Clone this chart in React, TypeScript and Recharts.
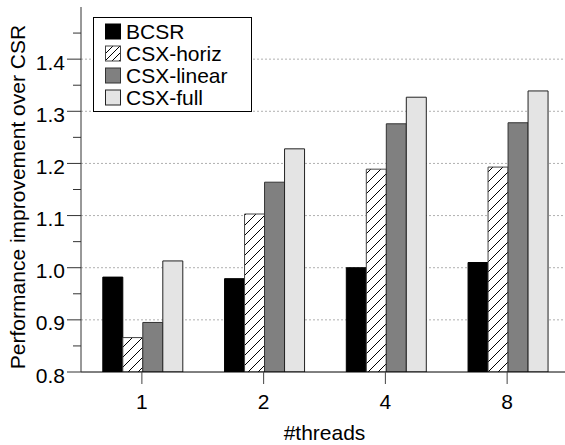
import React from 'react';
import { BarChart, Bar, XAxis, YAxis, CartesianGrid, Legend, Label } from 'recharts';

const categories = ['1', '2', '4', '8'];
const bcsr = [0.982, 0.979, 1.0, 1.01];
const csxHoriz = [0.866, 1.103, 1.189, 1.193];
const csxLinear = [0.895, 1.164, 1.276, 1.278];
const csxFull = [1.013, 1.228, 1.327, 1.339];

const majorTicks = [0.8, 0.9, 1.0, 1.1, 1.2, 1.3, 1.4];
const minorTicks = [0.85, 0.95, 1.05, 1.15, 1.25, 1.35, 1.45];
const gridValues = [0.9, 1.0, 1.1, 1.2, 1.3, 1.4];

const seriesNames = ['BCSR', 'CSX-horiz', 'CSX-linear', 'CSX-full'];

const data = categories.map((c, i) => ({
  threads: c,
  BCSR: bcsr[i],
  'CSX-horiz': csxHoriz[i],
  'CSX-linear': csxLinear[i],
  'CSX-full': csxFull[i],
}));

const allTicks = [...majorTicks, ...minorTicks].sort((a, b) => a - b);

const FONT = '"Liberation Sans", Arial, Helvetica, sans-serif';

const isMajor = (v: number) => Math.abs(v * 10 - Math.round(v * 10)) < 1e-6;

const YTick = (props: any) => {
  const { x, y, payload } = props;
  const v = payload.value as number;
  const major = isMajor(v);
  return (
    <g>
      <line x1={x - (major ? 14 : 8)} y1={y} x2={x} y2={y} stroke="#333" strokeWidth={1} />
      {major && (
        <text x={x - 16} y={y + 10.5} textAnchor="end" fontSize={21} fontFamily={FONT} fill="#000">
          {v.toFixed(1)}
        </text>
      )}
    </g>
  );
};

const XTick = (props: any) => {
  const { x, y, payload } = props;
  return (
    <g>
      <line x1={x} y1={y} x2={x} y2={y + 12} stroke="#444" strokeWidth={1} />
      <text x={x} y={y + 37} textAnchor="middle" fontSize={21} fontFamily={FONT} fill="#000">
        {payload.value}
      </text>
    </g>
  );
};

const fills = ['#000000', 'url(#hatch)', '#808080', '#e4e4e4'];
const strokes = ['#000000', '#444444', '#333333', '#222222'];

const LegendBox = () => {
  const rowStart = 14.5;
  const rowStep = 22;
  return (
    <svg width={160} height={96} style={{ display: 'block' }}>
      <defs>
        <pattern id="hatchLegend" patternUnits="userSpaceOnUse" width={7} height={7}>
          <rect width={7} height={7} fill="#fff" />
          <line x1={-1} y1={8} x2={8} y2={-1} stroke="#000" strokeWidth={1} />
        </pattern>
      </defs>
      <rect x={0.5} y={0.5} width={158} height={94} fill="#fff" stroke="#000" strokeWidth={1} />
      {seriesNames.map((n, i) => {
        const cy = rowStart + i * rowStep;
        return (
          <g key={n}>
            <rect
              x={12.5}
              y={cy - 7.5}
              width={15}
              height={15}
              fill={i === 1 ? 'url(#hatchLegend)' : fills[i]}
              stroke={strokes[i]}
              strokeWidth={1}
            />
            <text x={33} y={cy + 7.5} fontSize={21} fontFamily={FONT} fill="#000">
              {n}
            </text>
          </g>
        );
      })}
    </svg>
  );
};

export default function App() {
  return (
    <div style={{ position: 'fixed', left: 0, top: 0, width: 565, height: 445, overflow: 'hidden', background: '#fff' }}>
      <BarChart
        width={568}
        height={445}
        data={data}
        margin={{ top: 7, right: 0, bottom: 0, left: 0 }}
        barCategoryGap={21.8}
        barGap={0}
      >
        <defs>
          <pattern id="hatch" patternUnits="userSpaceOnUse" width={10} height={10}>
            <rect width={10} height={10} fill="#fff" />
            <line x1={-1} y1={11} x2={11} y2={-1} stroke="#000" strokeWidth={1} />
          </pattern>
        </defs>
        <CartesianGrid
          vertical={false}
          horizontalValues={gridValues}
          stroke="#b0b0b0"
          strokeDasharray="2 2"
        />
        <XAxis
          dataKey="threads"
          height={73}
          axisLine={{ stroke: '#000', strokeWidth: 1 }}
          tickLine={false}
          tickSize={0}
          tickMargin={0}
          tick={<XTick />}
          interval={0}
        >
          <Label
            content={(p: any) => {
              const vb = p.viewBox;
              return (
                <text x={vb.x + vb.width / 2} y={vb.y + 68} textAnchor="middle" fontSize={21} fontFamily={FONT} fill="#000">
                  #threads
                </text>
              );
            }}
          />
        </XAxis>
        <YAxis
          width={81}
          domain={[0.8, 1.5]}
          ticks={allTicks}
          interval={0}
          allowDataOverflow
          axisLine={{ stroke: '#333', strokeWidth: 1 }}
          tickLine={false}
          tickSize={0}
          tickMargin={0}
          tick={<YTick />}
        >
          <Label
            content={(p: any) => {
              const vb = p.viewBox;
              const cx = 25;
              const cy = vb.y + vb.height / 2 + 7.5;
              return (
                <text
                  x={cx}
                  y={cy}
                  transform={`rotate(-90, ${cx}, ${cy})`}
                  textAnchor="middle"
                  fontSize={21}
                  fontFamily={FONT}
                  fill="#000"
                >
                  Performance improvement over CSR
                </text>
              );
            }}
          />
        </YAxis>
        <Legend
          layout="horizontal"
          verticalAlign="middle"
          content={() => <LegendBox />}
          wrapperStyle={{ position: 'absolute', left: 93, top: 17, width: 160, height: 96 }}
        />
        {seriesNames.map((n, i) => (
          <Bar
            key={n}
            dataKey={n}
            fill={fills[i]}
            stroke={strokes[i]}
            strokeWidth={1}
            isAnimationActive={false}
          />
        ))}
      </BarChart>
    </div>
  );
}
